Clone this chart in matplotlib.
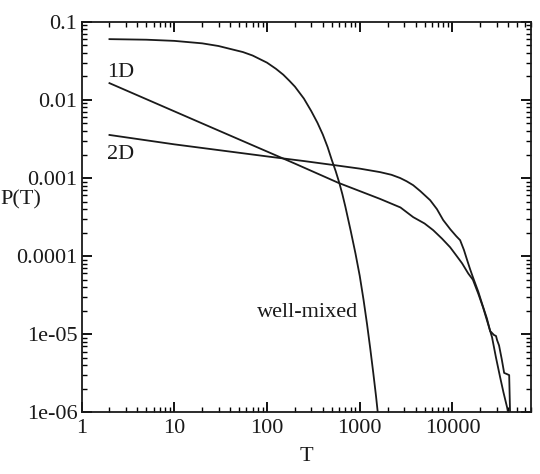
import matplotlib
matplotlib.use("Agg")
import matplotlib.pyplot as plt
from matplotlib.ticker import FixedLocator, NullFormatter

# Well-mixed curve
T_wm = [2, 5, 10, 20, 30, 40, 55, 70, 85, 100, 125, 150, 175, 200, 250, 300, 350, 400, 450, 500,
        550, 600, 650, 700, 800, 900, 1000, 1100, 1200, 1300, 1400, 1500, 1600]
P_wm = [0.060, 0.059, 0.057, 0.053, 0.049, 0.045, 0.041, 0.037, 0.033, 0.030, 0.025, 0.021, 0.0175,
        0.0148, 0.0104, 0.0072, 0.0051, 0.0036, 0.0025, 0.0017, 0.00123, 0.00088, 0.00062, 0.00043,
        0.00021, 0.000108, 0.000056, 0.0000275, 0.0000134, 0.0000065, 0.0000032, 0.0000016, 0.00000078]

# 1D curve
T_1d = [2, 20, 200, 586, 1660, 2750, 3770, 5000, 6200, 7700, 9440, 11000, 12700, 14800, 16600,
        19000, 21400, 24000, 26700, 29500, 32700, 35500, 38900, 42000]
P_1d = [0.0164, 0.0050, 0.00153, 0.00087, 0.00054, 0.00042, 0.000316, 0.000262, 0.000215, 0.000168,
        0.00013, 0.000102, 0.000081, 0.000060, 0.000050, 0.000033, 0.000022, 0.000014, 0.0000092,
        0.0000050, 0.0000028, 0.0000018, 0.00000115, 0.0000007]

# 2D curve
T_2d = [2, 10, 108, 250, 516, 1000, 1660, 2200, 2730, 3200, 3770, 4500, 5750, 6800, 7940, 9500,
        11000, 12100, 13300, 14400, 15500, 16600, 19000, 21000, 23500, 25500, 28000, 29500, 30300,
        31800, 34000, 36100, 38500, 40900, 41800, 42500]
P_2d = [0.00356, 0.0027, 0.00187, 0.00165, 0.00147, 0.00132, 0.00119, 0.00110, 0.00100, 0.00091,
        0.00081, 0.00068, 0.00052, 0.00040, 0.00029, 0.00022, 0.00018, 0.00016, 0.00012, 0.000089,
        0.000068, 0.000054, 0.000035, 0.000024, 0.000016, 0.000011, 0.0000098, 0.0000095,
        0.0000084, 0.0000072, 0.0000048, 0.0000032, 0.0000031, 0.0000030, 0.0000010, 0.0000005]

x_ticks = [1, 10, 100, 1000, 10000]
x_labels = ["1", "10", "100", "1000", "10000"]
y_ticks = [1e-6, 1e-5, 1e-4, 1e-3, 1e-2, 1e-1]
y_labels = ["1e-06", "1e-05", "0.0001", "0.001", "0.01", "0.1"]

lc = "#1a1a1a"
plt.rcParams['font.family'] = ['Liberation Serif', 'DejaVu Serif']
plt.rcParams['axes.linewidth'] = 1.3
plt.rcParams['axes.edgecolor'] = lc
plt.rcParams['xtick.color'] = "#000000"
plt.rcParams['ytick.color'] = "#000000"
plt.rcParams['xtick.labelcolor'] = lc
plt.rcParams['ytick.labelcolor'] = lc

fig = plt.figure(figsize=(5.4, 4.74), dpi=100)
ax = fig.add_axes([0.151, 0.130, 0.832, 0.824])

ax.plot(T_wm, P_wm, color=lc, lw=1.3)
ax.plot(T_1d, P_1d, color=lc, lw=1.3)
ax.plot(T_2d, P_2d, color=lc, lw=1.3)

ax.set_xscale("log")
ax.set_yscale("log")
ax.set_xlim(1, 70000)
ax.set_ylim(1e-6, 0.1)

x_minor = [m * 10 ** e for e in range(0, 5) for m in range(2, 10)]
y_minor = [m * 10.0 ** e for e in range(-6, -1) for m in range(2, 10)]
ax.xaxis.set_major_locator(FixedLocator(x_ticks))
ax.set_xticklabels(x_labels)
ax.yaxis.set_major_locator(FixedLocator(y_ticks))
ax.set_yticklabels(y_labels)
ax.xaxis.set_minor_locator(FixedLocator(x_minor))
ax.yaxis.set_minor_locator(FixedLocator(y_minor))
ax.xaxis.set_minor_formatter(NullFormatter())
ax.yaxis.set_minor_formatter(NullFormatter())

ax.tick_params(which="both", direction="in", top=True, right=True, labelsize=16)
ax.tick_params(which="major", length=7, width=1.3)
ax.tick_params(which="minor", length=3.5, width=1.0)
ax.tick_params(axis="x", pad=5)
ax.tick_params(axis="y", pad=3)

ax.set_xlabel("T", fontsize=16, labelpad=6, color=lc)
ax.set_ylabel("P(T)", fontsize=16, rotation=0, ha="center", va="center", color=lc)
ax.yaxis.set_label_coords(-0.135, 0.544)

ax.text(1.88, 0.017, "1D", fontsize=16, ha="left", va="bottom", color=lc)
ax.text(1.88, 0.00265, "2D", fontsize=16, ha="left", va="top", color=lc)
ax.text(78, 1.9e-5, "well-mixed", fontsize=16, ha="left", va="center", color=lc)

fig.savefig("out.png", dpi=100)
